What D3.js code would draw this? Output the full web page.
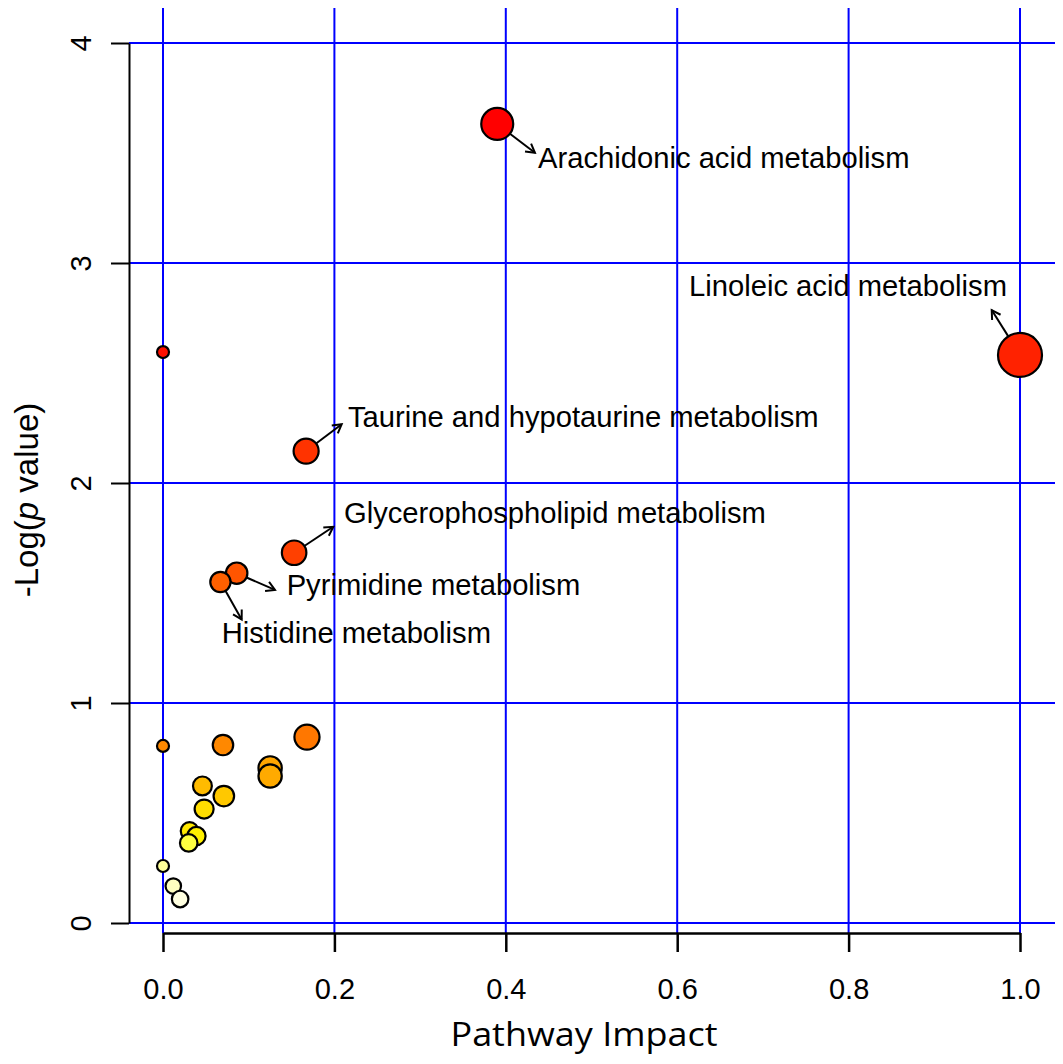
<!DOCTYPE html>
<html><head><meta charset="utf-8">
<script src="https://cdn.jsdelivr.net/npm/d3@7"></script>
<style>body{margin:0;background:#fff} svg{display:block}</style>
</head><body><svg id="c" width="1063" height="1064"></svg>
<script>
// ---- data ----
const pathwayNames = [
  "Arachidonic acid metabolism", "", "Linoleic acid metabolism",
  "Taurine and hypotaurine metabolism", "Glycerophospholipid metabolism",
  "Pyrimidine metabolism", "Histidine metabolism",
  "", "", "", "", "", "", "", "", "", "", "", "", "", ""
];
const impact = [0.390, 0.0, 1.0, 0.167, 0.153, 0.086, 0.067,
  0.168, 0.070, 0.0, 0.125, 0.125, 0.046, 0.071, 0.048, 0.031, 0.039, 0.030, 0.0, 0.012, 0.020];
const negLogP = [3.632, 2.595, 2.582, 2.145, 1.683, 1.590, 1.550,
  0.845, 0.809, 0.805, 0.705, 0.668, 0.623, 0.577, 0.518, 0.418, 0.395, 0.364, 0.259, 0.168, 0.109];
const xTicks = [0, 0.2, 0.4, 0.6, 0.8, 1.0];
const yTicks = [0, 1, 2, 3, 4];

// annotation placement (data units)
const labelNames = ["Arachidonic acid metabolism", "Linoleic acid metabolism",
  "Taurine and hypotaurine metabolism", "Glycerophospholipid metabolism",
  "Pyrimidine metabolism", "Histidine metabolism"];
const labelX = [0.4376, 0.6138, 0.2159, 0.2112, 0.1443, 0.0685];
const labelY = [3.432, 2.850, 2.2545, 1.817, 1.491, 1.271];
const tipX = [0.434, 0.967, 0.2085, 0.1987, 0.1307, 0.0918];
const tipY = [3.501, 2.786, 2.267, 1.801, 1.514, 1.380];

// colour stops (heat colours by -log p)
const colorDomain = [0.109, 0.168, 0.259, 0.364, 0.395, 0.418, 0.518, 0.577, 0.623, 0.668, 0.705, 0.805, 0.845, 1.55, 1.59, 1.683, 2.145, 2.582, 2.595, 3.632];
const colorRange = ["#ffffe0", "#ffffc0", "#ffff99", "#ffff40", "#fff000", "#ffe800", "#ffdd00", "#ffc800", "#ffbb00", "#ffaa00", "#ffa500", "#ff8a00", "#ff7700", "#ff6000", "#ff5500", "#ff4000", "#ff3300", "#ff2200", "#ff1000", "#ff0000"];

// ---- drawing ----
const svg = d3.select("#c");
const x = d3.scaleLinear().domain([0, 1]).range([163, 1020]);
const y = d3.scaleLinear().domain([0, 4]).range([923, 43]);
const r = d3.scaleSqrt().domain([0, 1]).range([6, 22]);
const color = d3.scaleLinear().domain(colorDomain).range(colorRange);

const blue = "#0000ff";
// grid
svg.append("g").selectAll("line.h").data(yTicks).join("line")
  .attr("x1", 129).attr("x2", 1055)
  .attr("y1", d => y(d)).attr("y2", d => y(d))
  .attr("stroke", blue).attr("stroke-width", 2);
svg.append("g").selectAll("line.v").data(xTicks).join("line")
  .attr("y1", 8).attr("y2", 933)
  .attr("x1", d => x(d)).attr("x2", d => x(d))
  .attr("stroke", blue).attr("stroke-width", 2);

// axes
const yAxis = svg.append("g").attr("transform", "translate(129,0)")
  .call(d3.axisLeft(y).tickValues(yTicks).tickFormat(d3.format("d")).tickSize(18).tickSizeOuter(0));
yAxis.selectAll("path, line").attr("stroke", "#000").attr("stroke-width", 2);
yAxis.selectAll("text")
  .attr("x", null).attr("dy", null)
  .attr("text-anchor", "middle")
  .attr("transform", "translate(-38,0) rotate(-90)")
  .attr("font-family", "Liberation Sans, Arial, sans-serif")
  .attr("font-size", 29).attr("fill", "#000");

const xAxis = svg.append("g").attr("transform", "translate(0,933)")
  .call(d3.axisBottom(x).tickValues(xTicks).tickFormat(d3.format(".1f")).tickSize(19).tickSizeOuter(0).tickPadding(26));
xAxis.selectAll("path, line").attr("stroke", "#000").attr("stroke-width", 2.5);
xAxis.selectAll("text")
  .attr("font-family", "Liberation Sans, Arial, sans-serif")
  .attr("font-size", 29).attr("fill", "#000");

// titles
svg.append("text")
  .attr("x", 584).attr("y", 1046)
  .attr("text-anchor", "middle")
  .attr("font-family", "Open Sans, sans-serif")
  .attr("font-size", 33)
  .attr("textLength", 267).attr("lengthAdjust", "spacingAndGlyphs")
  .text("Pathway Impact");

const yt = svg.append("text")
  .attr("transform", "translate(38,500) rotate(-90)")
  .attr("text-anchor", "middle")
  .attr("font-family", "Liberation Sans, Arial, sans-serif")
  .attr("font-size", 33);
yt.append("tspan").text("-Log(");
yt.append("tspan").attr("font-style", "italic").text("p");
yt.append("tspan").text(" value)");

// points (draw larger -log p first)
const pts = impact.map((v, i) => ({ name: pathwayNames[i], ix: v, ny: negLogP[i] }))
  .sort((a, b) => b.ny - a.ny);
svg.append("g").selectAll("circle").data(pts).join("circle")
  .attr("cx", d => x(d.ix)).attr("cy", d => y(d.ny))
  .attr("r", d => r(d.ix))
  .attr("fill", d => color(d.ny))
  .attr("stroke", "#000").attr("stroke-width", 2.2);

// arrows + labels
const ann = labelNames.map((n, i) => {
  const p = pts.find(q => q.name === n);
  const cx = x(p.ix), cy = y(p.ny), rr = r(p.ix);
  const tx = x(tipX[i]), ty = y(tipY[i]);
  const dx = tx - cx, dy = ty - cy, L = Math.hypot(dx, dy);
  return { n, sx: cx + dx / L * rr, sy: cy + dy / L * rr, tx, ty, ang: Math.atan2(dy, dx), lx: x(labelX[i]), ly: y(labelY[i]) };
});
const ag = svg.append("g").attr("stroke", "#000").attr("stroke-width", 2).attr("fill", "none");
ann.forEach(a => {
  ag.append("line").attr("x1", a.sx).attr("y1", a.sy).attr("x2", a.tx).attr("y2", a.ty);
  const hl = 10, ha = Math.PI / 6;
  const p1 = [a.tx - hl * Math.cos(a.ang - ha), a.ty - hl * Math.sin(a.ang - ha)];
  const p2 = [a.tx - hl * Math.cos(a.ang + ha), a.ty - hl * Math.sin(a.ang + ha)];
  ag.append("path").attr("d", `M${p1[0]},${p1[1]}L${a.tx},${a.ty}L${p2[0]},${p2[1]}`);
});
svg.append("g").selectAll("text").data(ann).join("text")
  .attr("x", d => d.lx).attr("y", d => d.ly)
  .attr("font-family", "Liberation Sans, Arial, sans-serif")
  .attr("font-size", 29.2).attr("fill", "#000")
  .text(d => d.n);
</script>
</body></html>
